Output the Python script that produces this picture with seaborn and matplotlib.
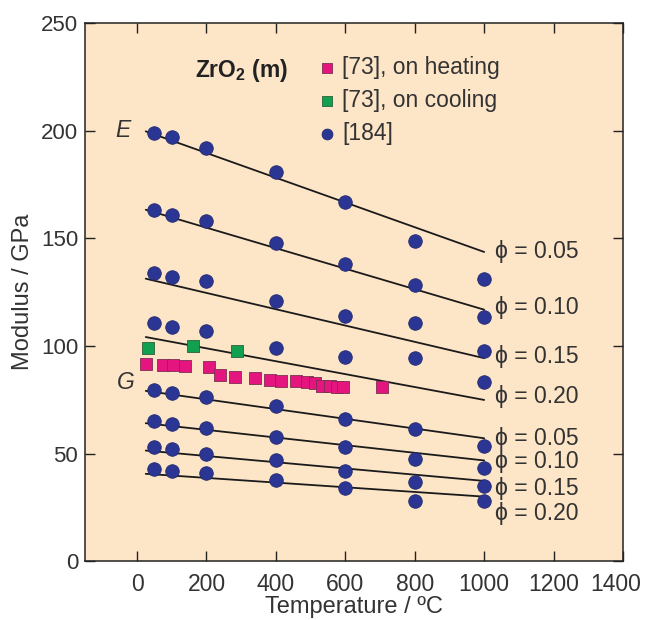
import numpy as np
import pandas as pd
import matplotlib
matplotlib.use("Agg")
import matplotlib.pyplot as plt
import matplotlib.transforms as mtransforms
import seaborn as sns

# temperatures of the [184] data (degC)
temps = [50, 100, 200, 400, 600, 800, 1000]

# [184] moduli, four porosities each for E and G (GPa)
e_005 = [199, 197, 192, 181, 167, 148.6, 131]
e_010 = [163, 161, 158, 148, 138, 128.5, 113.3]
e_015 = [134, 132, 130, 121, 114, 110.5, 97.5]
e_020 = [110.5, 109, 107, 99, 95, 94.5, 83.3]
g_005 = [79.5, 78, 76.5, 72, 66, 61.4, 53.4]
g_010 = [65, 64, 62, 58, 53, 47.5, 43.3]
g_015 = [53, 52, 50, 47, 42, 37, 35]
g_020 = [43, 42, 41, 38, 34, 28.3, 28]

# [73] on heating
heat_t = [26, 74, 103, 139, 206, 240, 281, 340, 384, 414, 458, 489, 513, 532, 556, 575, 593, 706]
heat_m = [91.6, 91.3, 91.3, 90.8, 90.2, 86.7, 85.6, 85.1, 84.3, 83.9, 83.9, 83.1, 82.8, 81.7, 81.6, 81.2, 80.9, 81.2]

# [73] on cooling
cool_t = [31, 160, 288]
cool_m = [99.1, 99.9, 97.5]

# linear fits: value at fit_t[0] and fit_t[1]
fit_t = [25, 1000]
fit_start = [199.7, 163.3, 131.3, 104.2, 79.2, 64.2, 51.5, 40.7]
fit_end = [143.7, 116.9, 94.4, 75.0, 57.2, 46.9, 37.4, 30.1]
phi_labels = ["0.05", "0.10", "0.15", "0.20", "0.05", "0.10", "0.15", "0.20"]
label_y = [144, 117.7, 95.2, 76.6, 57.3, 46.4, 34, 22.4]

BG = "#fde5c8"
BLUE = "#2b3593"
PINK = "#e5157f"
GREEN = "#10a04f"
TXT = "#333333"

sns.set_style("ticks")
plt.rcParams['font.family'] = ['Liberation Sans', 'DejaVu Sans']
plt.rcParams['mathtext.fontset'] = 'custom'
plt.rcParams['mathtext.rm'] = 'Liberation Sans'
plt.rcParams['mathtext.bf'] = 'Liberation Sans:bold'

rows = [e_005, e_010, e_015, e_020, g_005, g_010, g_015, g_020]
ref184 = pd.DataFrame({
    'T': temps * len(rows),
    'M': [v for r in rows for v in r],
})
heat = pd.DataFrame({'T': heat_t, 'M': heat_m})
cool = pd.DataFrame({'T': cool_t, 'M': cool_m})
fits = pd.DataFrame({
    'T': fit_t * len(fit_start),
    'M': [v for pair in zip(fit_start, fit_end) for v in pair],
    'line': np.repeat(np.arange(len(fit_start)), 2),
})

fig = plt.figure(figsize=(6.46, 6.2), dpi=100)
ax = fig.add_axes([0.1316, 0.0944, 0.8328, 0.8685])
ax.set_facecolor(BG)

sns.lineplot(data=fits, x='T', y='M', units='line', estimator=None,
             color='#1a1a1a', lw=1.3, ax=ax, legend=False)
sns.scatterplot(data=heat, x='T', y='M', marker='s', s=75, color=PINK,
                edgecolor='#7a3050', linewidth=0.6, ax=ax, zorder=3,
                label='[73], on heating')
sns.scatterplot(data=cool, x='T', y='M', marker='s', s=75, color=GREEN,
                edgecolor='#2e5e3a', linewidth=0.6, ax=ax, zorder=3,
                label='[73], on cooling')
sns.scatterplot(data=ref184, x='T', y='M', marker='o', s=95, color=BLUE,
                edgecolor='#232a70', linewidth=0.6, ax=ax, zorder=4,
                label='[184]')

for lab, y in zip(phi_labels, label_y):
    ax.text(1030, y, "\u03d5 = " + lab, fontsize=16.5, color=TXT,
            ha='left', va='center')

ax.text(-40, 200, "E", fontsize=16.5, style='italic', color=TXT,
        ha='center', va='center')
ax.text(-33, 83, "G", fontsize=16.5, style='italic', color=TXT,
        ha='center', va='center')
ax.text(168, 228, r"ZrO$_\mathbf{2}$ (m)", fontsize=16.5, fontweight='bold',
        color='#222222', ha='left', va='center')

leg = ax.legend(loc='upper left', bbox_to_anchor=(0.408, 0.955), frameon=False,
                fontsize=16.5, handletextpad=0.05, labelspacing=0.42,
                borderaxespad=0, markerscale=0.8, handlelength=1.2)
for t in leg.get_texts():
    t.set_color(TXT)

ax.set_xlim(-150, 1400)
ax.set_ylim(0, 250)
ax.set_xticks(range(0, 1401, 200))
ax.set_yticks(range(0, 251, 50))
ax.tick_params(direction='in', length=7, width=1, top=True, right=True,
               colors='#222222', labelcolor=TXT)
ax.tick_params(axis='x', pad=8, labelsize=16.5)
ax.tick_params(axis='y', pad=5, labelsize=16)
for sp in ax.spines.values():
    sp.set_visible(True)
    sp.set_color('#222222')
    sp.set_linewidth(1.1)

# last x label sits a little left of its tick so it stays inside the figure
last = ax.xaxis.get_major_ticks()[-1].label1
last.set_transform(last.get_transform() +
                   mtransforms.ScaledTranslation(-5 / 72, 0, fig.dpi_scale_trans))

ax.set_xlabel("Temperature / \u00baC", fontsize=17, color=TXT, labelpad=0)
ax.set_ylabel("Modulus / GPa", fontsize=17, color=TXT, labelpad=5)

fig.savefig("out.png", dpi=100, facecolor='white')
